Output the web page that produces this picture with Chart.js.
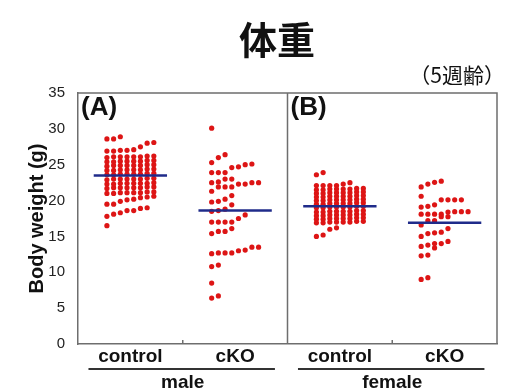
<!DOCTYPE html>
<html lang="ja">
<head>
<meta charset="UTF-8">
<title>体重</title>
<script src="https://cdn.jsdelivr.net/npm/chart.js"></script>
<style>
  html, body { margin: 0; padding: 0; background: #fff; }
  #wrap { width: 511px; height: 392px; }
</style>
</head>
<body>
<div id="wrap"><canvas id="bw"></canvas></div>
<script>
const titleText = '体重';
const ageText = '（5週齢）';
const groups = ['control', 'cKO', 'control', 'cKO'];
const sexes = ['male', 'female'];
const panels = ['(A)', '(B)'];
const yTicks = [0, 5, 10, 15, 20, 25, 30, 35];

// body weight (g)
const maleControl = [
    16.5,
    17.8, 18.1, 18.3, 18.6, 18.6, 18.9, 19.0,
    19.5, 19.5, 19.9, 20.1, 20.2, 20.4, 20.5, 20.6,
    21.0, 21.1, 21.1, 21.0, 21.2, 21.1, 21.2, 21.1,
    21.8, 21.7, 21.8, 21.9, 21.8, 21.8, 21.9, 21.8,
    22.4, 22.3, 22.4, 22.4, 22.5, 22.4, 22.3, 22.4,
    23.0, 23.0, 23.1, 22.9, 23.0, 23.1, 23.0, 23.0,
    23.6, 23.7, 23.7, 23.8, 23.6, 23.7, 23.8, 23.7,
    24.3, 24.2, 24.3, 24.4, 24.3, 24.3, 24.4, 24.2,
    24.9, 25.0, 24.9, 24.8, 24.9, 25.0, 24.9, 24.9,
    25.5, 25.4, 25.5, 25.6, 25.5, 25.5, 25.6, 25.4,
    26.1, 26.2, 26.1, 26.0, 26.1, 26.2, 26.1, 26.1,
    26.9, 26.9, 27.0, 27.0, 27.1, 27.5, 28.0, 28.1,
    28.6, 28.6, 28.9
];
const maleKO = [
    6.4, 6.7, 8.5, 10.8, 11.0,
    12.6, 12.7, 12.7, 12.7, 13.0, 13.1, 13.5, 13.5,
    15.4, 15.7, 15.7, 16.1,
    17.0, 17.0, 17.0, 17.0, 17.5, 18.0,
    18.5, 18.6, 18.8, 19.4, 19.8, 19.9, 20.2, 20.7,
    21.3, 21.9, 21.9, 21.9, 22.3, 22.3, 22.5, 22.5, 22.5, 22.6, 23.0, 23.0,
    23.9, 23.9, 23.9, 24.6, 24.7, 25.0, 25.1, 25.3, 26.0, 26.4,
    30.1
];
const femaleControl = [
    15.0, 15.2, 16.0, 16.2,
    16.9, 17.0, 17.0, 17.1, 17.0, 16.9, 17.0, 17.1,
    17.5, 17.4, 17.5, 17.6, 17.5, 17.5, 17.4, 17.6,
    18.0, 18.0, 17.9, 18.1, 18.0, 18.0, 18.1, 17.9,
    18.5, 18.5, 18.4, 18.6, 18.5, 18.5, 18.6, 18.4,
    19.1, 19.0, 19.1, 19.2, 19.1, 19.0, 19.1, 19.2,
    19.6, 19.6, 19.5, 19.7, 19.6, 19.6, 19.7, 19.5,
    20.1, 20.1, 20.0, 20.2, 20.1, 20.1, 20.2, 20.0,
    20.6, 20.6, 20.5, 20.7, 20.6, 20.6, 20.5, 20.7,
    21.1, 21.1, 21.0, 21.2, 21.1, 21.1, 21.2, 21.0,
    21.6, 21.6, 21.5, 21.7, 21.6, 21.6, 21.7, 21.5,
    22.1, 22.1, 22.1, 22.1, 22.3, 22.5, 23.6, 23.9
];
const femaleKO = [
    9.0, 9.25, 12.3, 12.4, 13.4, 13.6, 13.8, 14.0, 14.0, 14.3,
    15.0, 15.4, 15.5, 15.6, 16.1, 16.6, 17.2, 17.2, 17.75, 17.75,
    18.1, 18.1, 18.1, 18.1, 18.4, 18.45, 18.45, 18.45,
    19.1, 19.2, 19.4, 20.1, 20.1, 20.1, 20.1, 20.6,
    21.9, 22.3, 22.55, 22.7
];
const groupMeans = [23.5, 18.6, 19.2, 16.9];

const dotStep = 0.064;   // horizontal spacing of dots, x units
const meanHalf = 0.35;

// rows of up to 8 dots, values sorted left to right
function swarm(values, center) {
    const sorted = [...values].sort((a, b) => a - b);
    const pts = [];
    let row = [];
    const flush = () => {
        row.forEach((v, i) => pts.push({ x: center + (i - 3.5) * dotStep, y: v }));
        row = [];
    };
    sorted.forEach(v => {
        if (row.length && (row.length >= 8 || v - row[0] > 1.2 + 1e-6)) flush();
        row.push(v);
    });
    flush();
    return pts;
}

const allGroups = [maleControl, maleKO, femaleControl, femaleKO];
const centers = [0.5, 1.5, 2.5, 3.5];

const datasets = [];
groupMeans.forEach((m, i) => {
    datasets.push({
        data: [{ x: centers[i] - meanHalf, y: m }, { x: centers[i] + meanHalf, y: m }],
        showLine: true,
        borderColor: '#1f2b8a',
        borderWidth: 2.5,
        pointRadius: 0,
        order: 0
    });
});
allGroups.forEach((vals, i) => {
    datasets.push({
        data: swarm(vals, centers[i]),
        backgroundColor: '#dd1515',
        borderWidth: 0,
        pointRadius: 2.6,
        order: 1
    });
});

const decor = {
    id: 'decor',
    afterDraw(chart) {
        const { ctx, chartArea: a, scales: { x } } = chart;
        ctx.save();
        ctx.strokeStyle = '#6e6e6e';
        ctx.lineWidth = 1.5;
        ctx.beginPath();
        ctx.moveTo(a.left, a.top);
        ctx.lineTo(a.right, a.top);
        ctx.lineTo(a.right, a.bottom);
        const xd = x.getPixelForValue(2);
        ctx.moveTo(xd, a.top);
        ctx.lineTo(xd, a.bottom);
        [1, 3].forEach(v => {
            const px = x.getPixelForValue(v);
            ctx.moveTo(px, a.bottom);
            ctx.lineTo(px, a.bottom - 4);
        });
        ctx.stroke();

        ctx.fillStyle = '#111';
        ctx.textBaseline = 'middle';
        ctx.textAlign = 'left';
        ctx.font = 'bold 26px "Liberation Sans", Arial, sans-serif';
        panels.forEach((t, i) => ctx.fillText(t, x.getPixelForValue(i * 2) + 3, a.top + 15));

        ctx.textAlign = 'center';
        ctx.font = 'bold 38px "Noto Sans CJK JP", sans-serif';
        ctx.fillText(titleText, 277, 40);
        ctx.textAlign = 'right';
        ctx.font = '21px "Noto Sans CJK JP", sans-serif';
        ctx.fillText(ageText, 505, 75);

        ctx.strokeStyle = '#333';
        ctx.lineWidth = 2;
        ctx.font = 'bold 19px "Liberation Sans", Arial, sans-serif';
        ctx.textAlign = 'center';
        sexes.forEach((s, i) => {
            ctx.beginPath();
            ctx.moveTo(x.getPixelForValue(i * 2 + 0.1), 369);
            ctx.lineTo(x.getPixelForValue(i * 2 + 1.88), 369);
            ctx.stroke();
            ctx.fillText(s, x.getPixelForValue(i * 2 + 1), 383);
        });
        ctx.restore();
    }
};

Chart.defaults.font.family = '"Liberation Sans", Arial, sans-serif';

new Chart(document.getElementById('bw'), {
    type: 'scatter',
    data: { datasets },
    options: {
        responsive: true,
        maintainAspectRatio: false,
        animation: false,
        layout: { padding: { top: 93, right: 14, bottom: 0, left: 0 } },
        plugins: { legend: { display: false }, tooltip: { enabled: false } },
        scales: {
            x: {
                type: 'linear',
                min: 0,
                max: 4,
                afterBuildTicks: s => { s.ticks = centers.map(v => ({ value: v })); },
                afterFit: s => { s.height = 48; },
                ticks: {
                    callback: (v, i) => groups[i],
                    font: { size: 19, weight: 'bold' },
                    color: '#111',
                    padding: 1,
                    autoSkip: false,
                    maxRotation: 0
                },
                grid: { display: false, drawTicks: false, tickLength: 0 },
                border: { color: '#6e6e6e', width: 1.5 }
            },
            y: {
                min: 0,
                max: 35,
                afterBuildTicks: s => { s.ticks = yTicks.map(v => ({ value: v })); },
                afterFit: s => { s.width = 78; },
                ticks: { font: { size: 15 }, color: '#222', padding: 5 },
                grid: { display: false },
                border: { color: '#6e6e6e', width: 1.5 },
                title: {
                    display: true,
                    text: 'Body weight (g)',
                    font: { size: 20, weight: 'bold' },
                    color: '#111',
                    padding: { top: 25, bottom: 0 }
                }
            }
        }
    },
    plugins: [decor]
});
</script>
</body>
</html>
